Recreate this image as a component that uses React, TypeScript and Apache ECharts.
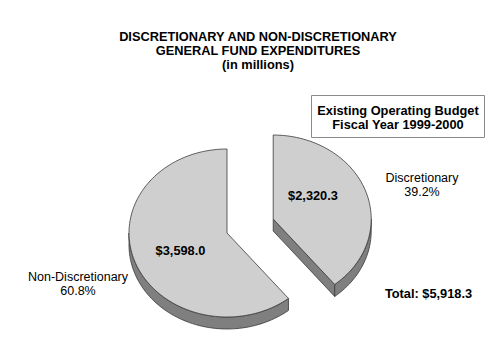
import React, { useEffect, useRef } from "react";
import * as echarts from "echarts";

const categories = ["Discretionary", "Non-Discretionary"];
const values = [2320.3, 3598.0];
const valueLabels = ["$2,320.3", "$3,598.0"];
const percentLabels = ["39.2%", "60.8%"];
const explode = [0.5, 0];
const titleLines = ["DISCRETIONARY AND NON-DISCRETIONARY", "GENERAL FUND EXPENDITURES", "(in millions)"];
const boxLines = ["Existing Operating Budget", "Fiscal Year 1999-2000"];
const totalLabel = "Total: $5,918.3";

const CX = 227, CY = 233, RX = 98, RY = 84, DEPTH = 12;
const FONT = "'Liberation Sans', Arial, sans-serif";
const TOP = "#cfcfcf", SIDE = "#7f7f7f", EDGE = "#3a3a3a";

function pt(cx: number, cy: number, deg: number, dz = 0): number[] {
  const r = (deg * Math.PI) / 180;
  return [cx + RX * Math.sin(r), cy - RY * Math.cos(r) + dz];
}
function arc(cx: number, cy: number, a0: number, a1: number, dz = 0): number[][] {
  const pts: number[][] = [];
  const n = Math.max(2, Math.ceil(Math.abs(a1 - a0) / 2));
  for (let k = 0; k <= n; k++) pts.push(pt(cx, cy, a0 + ((a1 - a0) * k) / n, dz));
  return pts;
}

export default function App() {
  const ref = useRef<HTMLDivElement>(null);
  useEffect(() => {
    if (!ref.current) return;
    const chart = echarts.init(ref.current, null, { renderer: "svg" });
    const total = values.reduce((a, b) => a + b, 0);
    const lineStyle = { stroke: EDGE, lineWidth: 0.8 };
    const renderItem = (params: any) => {
      const i = params.dataIndex;
      const before = values.slice(0, i).reduce((a, b) => a + b, 0);
      const a0 = (before / total) * 360;
      const a1 = ((before + values[i]) / total) * 360;
      const m = (((a0 + a1) / 2) * Math.PI) / 180;
      const cx = CX + explode[i] * RX * Math.sin(m);
      const cy = CY - explode[i] * RY * Math.cos(m);
      const children: any[] = [];
      if (a1 > 0 && a1 < 180) {
        const p = pt(cx, cy, a1);
        children.push({
          type: "polygon",
          shape: { points: [[cx, cy], p, [p[0], p[1] + DEPTH], [cx, cy + DEPTH]] },
          style: { fill: SIDE, ...lineStyle },
        });
      }
      if (a0 > 180 && a0 < 360) {
        const p = pt(cx, cy, a0);
        children.push({
          type: "polygon",
          shape: { points: [[cx, cy], p, [p[0], p[1] + DEPTH], [cx, cy + DEPTH]] },
          style: { fill: SIDE, ...lineStyle },
        });
      }
      const r0 = Math.max(a0, 90), r1 = Math.min(a1, 270);
      if (r1 > r0) {
        const top = arc(cx, cy, r0, r1);
        const bot = arc(cx, cy, r1, r0, DEPTH);
        children.push({
          type: "polygon",
          shape: { points: top.concat(bot) },
          style: { fill: SIDE, ...lineStyle },
        });
      }
      children.push({
        type: "polygon",
        shape: { points: [[cx, cy], ...arc(cx, cy, a0, a1)] },
        style: { fill: TOP, ...lineStyle },
      });
      return { type: "group", children };
    };

    const bold = { fontFamily: FONT, fontSize: 12.8, fontWeight: "bold", fill: "#000", align: "center", verticalAlign: "middle" };
    const normal = { fontFamily: FONT, fontSize: 12.5, fontWeight: "normal", fill: "#000", align: "center", verticalAlign: "middle" };

    chart.setOption({
      animation: false,
      backgroundColor: "#fff",
      series: [
        {
          type: "custom",
          coordinateSystem: "none",
          silent: true,
          z: 1,
          renderItem,
          data: values.map((v, i) => ({ name: categories[i], value: v })),
        },
      ],
      graphic: [
        {
          type: "text", z: 100, x: 258, y: 50.7,
          style: { ...bold, text: titleLines.join("\n"), lineHeight: 14 },
        },
        {
          type: "rect", z: 99, shape: { x: 311.5, y: 95.5, width: 173, height: 42 },
          style: { fill: "#fff", stroke: "#8a8a8a", lineWidth: 1 },
        },
        {
          type: "text", z: 100, x: 398, y: 117,
          style: { ...bold, text: boxLines.join("\n"), lineHeight: 14 },
        },
        { type: "text", z: 100, x: 313, y: 195, style: { ...bold, text: valueLabels[0] } },
        { type: "text", z: 100, x: 180.5, y: 250, style: { ...bold, text: valueLabels[1] } },
        {
          type: "text", z: 100, x: 422, y: 185,
          style: { ...normal, text: categories[0] + "\n" + percentLabels[0], lineHeight: 14 },
        },
        {
          type: "text", z: 100, x: 78, y: 284,
          style: { ...normal, text: categories[1] + "\n" + percentLabels[1], lineHeight: 14 },
        },
        { type: "text", z: 100, x: 428.5, y: 293, style: { ...bold, text: totalLabel } },
      ],
    });
    return () => chart.dispose();
  }, []);
  return <div ref={ref} style={{ position: "fixed", left: 0, top: 0, width: 500, height: 360 }} />;
}
